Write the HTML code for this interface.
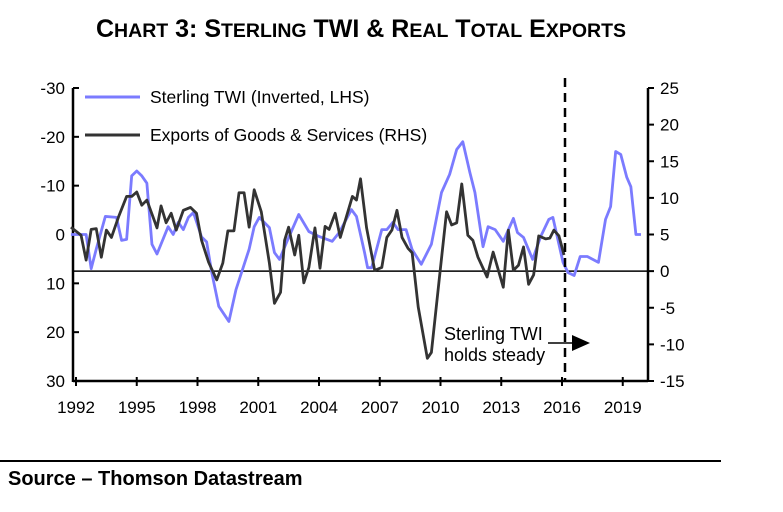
<!DOCTYPE html>
<html><head><meta charset="utf-8"><style>
body{margin:0;background:#fff;width:783px;height:507px;overflow:hidden;font-family:"Liberation Sans",sans-serif}
svg text{font-family:"Liberation Sans",sans-serif}
</style></head><body>
<svg id="chart" width="783" height="507">
<text x="361" y="37" text-anchor="middle" font-size="25" font-weight="bold">C<tspan font-size="19.5">HART</tspan> 3: S<tspan font-size="19.5">TERLING</tspan> TWI &amp; R<tspan font-size="19.5">EAL</tspan> T<tspan font-size="19.5">OTAL</tspan> E<tspan font-size="19.5">XPORTS</tspan></text>
<g id="axes"></g>
<g id="series"></g>
<line x1="85" y1="97" x2="140" y2="97" stroke="#7b7bff" stroke-width="3"/>
<text x="150" y="103" font-size="17.5">Sterling TWI (Inverted, LHS)</text>
<line x1="85" y1="135" x2="140" y2="135" stroke="#333" stroke-width="3"/>
<text x="150" y="141" font-size="17.5">Exports of Goods &amp; Services (RHS)</text>
<line x1="565" y1="78" x2="565" y2="381" stroke="#000" stroke-width="2.5" stroke-dasharray="9,6"/>
<text x="444" y="340" font-size="18">Sterling TWI</text>
<text x="444" y="361" font-size="18">holds steady</text>
<line x1="548" y1="343" x2="575" y2="343" stroke="#000" stroke-width="1.5"/>
<polygon points="572,335 590,343 572,351" fill="#000"/>
<line x1="0" y1="461" x2="721" y2="461" stroke="#000" stroke-width="2"/>
<text x="8" y="485" font-size="20" font-weight="bold">Source – Thomson Datastream</text>
</svg>
<script>
const leftTicks=[-30,-20,-10,0,10,20,30];
const rightTicks=[25,20,15,10,5,0,-5,-10,-15];
const yearLabels=[1992,1995,1998,2001,2004,2007,2010,2013,2016,2019];
const twiDates=[1991.75,1992.5,1992.75,1993.0,1993.45,1994.0,1994.25,1994.5,1994.75,1995.0,1995.25,1995.5,1995.75,1996.0,1996.55,1996.8,1997.05,1997.3,1997.55,1997.8,1998.2,1998.45,1998.7,1999.05,1999.55,1999.9,2000.55,2000.8,2001.05,2001.55,2001.8,2002.05,2002.4,2003.0,2003.5,2004.0,2004.65,2005.0,2005.6,2005.85,2006.25,2006.4,2006.6,2007.1,2007.35,2007.65,2007.9,2008.3,2008.6,2009.05,2009.55,2010.05,2010.45,2010.8,2011.1,2011.45,2011.7,2012.1,2012.35,2012.7,2013.1,2013.6,2013.8,2014.1,2014.55,2014.95,2015.35,2015.55,2016.05,2016.3,2016.6,2016.9,2017.25,2017.8,2018.15,2018.4,2018.65,2018.9,2019.2,2019.4,2019.65,2019.9];
const twiValues=[0,0,7,3,-3.7,-3.5,1.2,1,-12,-13,-12,-10.5,2,4,-1.6,0,-2.5,-1,-3.5,-4.5,0.5,1.5,7.7,14.7,17.8,11.3,3,-1.6,-3.5,-1.4,3.7,5.1,1.6,-4.1,-0.6,0.4,1.4,-0.4,-5.1,-3.7,3.7,6.8,6.8,-1,-1,-2.5,-1,-1,3.1,6.1,2,-8.6,-12.3,-17.4,-19,-12.7,-8.6,2.5,-1.6,-1,1.4,-3.3,-0.4,0.6,5.1,0.4,-3.1,-3.5,5.7,7.8,8.4,4.5,4.5,5.7,-3.1,-5.7,-17,-16.4,-11.7,-9.8,0,0];
const expDates=[1991.75,1992.25,1992.5,1992.75,1993.0,1993.25,1993.5,1993.75,1994.1,1994.5,1994.75,1995.0,1995.25,1995.5,1996.0,1996.2,1996.45,1996.7,1996.95,1997.3,1997.65,1997.95,1998.2,1998.55,1998.95,1999.25,1999.5,1999.8,2000.05,2000.3,2000.55,2000.8,2001.15,2001.55,2001.8,2002.1,2002.3,2002.5,2002.8,2003.0,2003.25,2003.5,2003.8,2004.05,2004.3,2004.5,2004.8,2005.05,2005.65,2005.85,2006.05,2006.35,2006.75,2007.1,2007.35,2007.6,2007.85,2008.1,2008.4,2008.6,2008.9,2009.35,2009.55,2009.95,2010.3,2010.55,2010.8,2011.05,2011.35,2011.6,2011.85,2012.3,2012.6,2013.1,2013.35,2013.6,2013.85,2014.1,2014.35,2014.6,2014.85,2015.2,2015.4,2015.6,2015.85,2016.1];
const expValues=[6,4.9,1.5,5.7,5.8,1.9,5.6,4.6,7.4,10.2,10.2,10.8,9,9.7,5.9,8.9,6.6,7.9,5.6,8.3,8.7,7.9,4.2,1.2,-1.2,1.1,5.5,5.5,10.7,10.7,6,11.1,8.1,1.1,-4.4,-2.9,4.2,6,2.2,4.9,-1.6,0.5,5.9,0.4,6.1,5.7,7.9,4.6,10.2,9.7,12.6,5.9,0.1,0.5,4.6,5.6,8.3,4.6,3.1,2.5,-4.9,-11.9,-11.1,-0.8,8.1,6.3,6.6,11.9,4.9,4.2,1.9,-0.8,2.6,-2.2,5.6,0.1,0.8,3.3,-1.8,-0.5,4.8,4.4,4.5,5.6,4.8,2.2];

const X0=73,X1=648,Y0=88,Y1=381;
const x=d=>76+(d-1992)*20.25;
const yL=v=>Y0+(v+30)/60*(Y1-Y0);
const yR=v=>Y0+(25-v)/40*(Y1-Y0);
const NS='http://www.w3.org/2000/svg';
const axes=document.getElementById('axes'),series=document.getElementById('series');
function mk(tag,attrs,parent){const e=document.createElementNS(NS,tag);for(const k in attrs)e.setAttribute(k,attrs[k]);parent.appendChild(e);return e;}

let e=mk('line',{x1:X0,y1:Y0,x2:X0,y2:Y1+1,stroke:'#000','stroke-width':2.5},axes);


e=mk('line',{x1:X1,y1:Y0,x2:X1,y2:Y1+1,stroke:'#000','stroke-width':2.5},axes);


e=mk('line',{x1:X0,y1:Y1,x2:X1,y2:Y1,stroke:'#000','stroke-width':2.5},axes);


e=mk('line',{x1:X0,y1:yR(0),x2:X1,y2:yR(0),stroke:'#000','stroke-width':1.5},axes);



leftTicks.forEach(v=>{
  mk('line',{x1:X0,y1:yL(v),x2:X0+6,y2:yL(v),stroke:'#000','stroke-width':2},axes);
  const t=mk('text',{x:X0-8,y:yL(v)+6,'text-anchor':'end','font-size':17},axes);
  t.textContent=v;
  
  
});
rightTicks.forEach(v=>{
  mk('line',{x1:X1,y1:yR(v),x2:X1+6,y2:yR(v),stroke:'#000','stroke-width':2},axes);
  const t=mk('text',{x:X1+12,y:yR(v)+6,'font-size':17},axes);
  t.textContent=v;
  
  
});
yearLabels.forEach(yr=>{
  mk('line',{x1:x(yr),y1:Y1-4,x2:x(yr),y2:Y1+5,stroke:'#000','stroke-width':2},axes);
  const t=mk('text',{x:x(yr),y:Y1+32,'text-anchor':'middle','font-size':17},axes);
  t.textContent=yr;
  
  
});

let p=mk('polyline',{points:twiDates.map((d,i)=>x(d)+','+yL(twiValues[i])).join(' '),fill:'none',stroke:'#7b7bff','stroke-width':2.8,'stroke-linejoin':'round'},series);


p=mk('polyline',{points:expDates.map((d,i)=>x(d)+','+yR(expValues[i])).join(' '),fill:'none',stroke:'#333','stroke-width':2.8,'stroke-linejoin':'round'},series);


</script>
</body></html>
